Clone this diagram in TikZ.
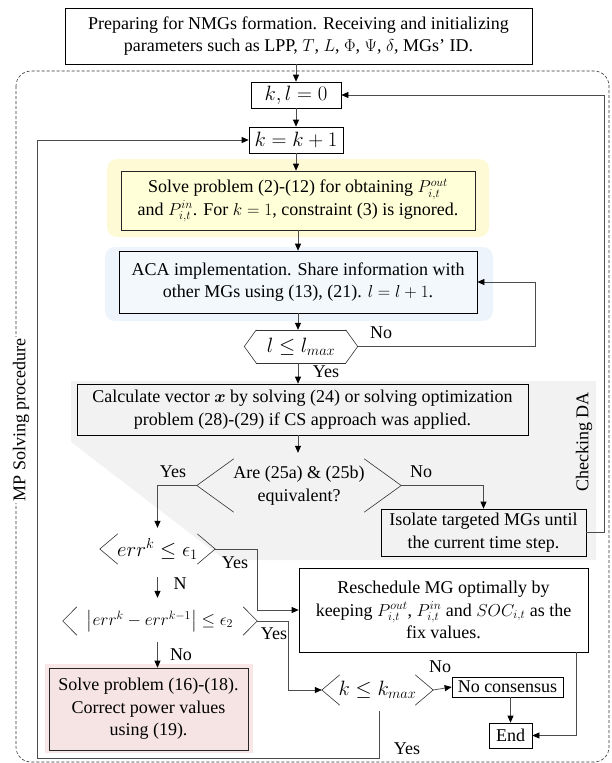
\documentclass[tikz,border=0pt]{standalone}
\usepackage{fontspec}
\setmainfont{Liberation Serif}
\usepackage{amsmath}
\usetikzlibrary{arrows.meta,calc}
\definecolor{yout}{HTML}{FFFAD6}
\definecolor{yin}{HTML}{FFFFD8}
\definecolor{bout}{HTML}{EEF4FB}
\definecolor{bin}{HTML}{F3F8FD}
\definecolor{gbg}{HTML}{F2F2F2}
\definecolor{pout}{HTML}{F9E6E6}
\definecolor{pin}{HTML}{F6E4E4}
\newcommand\DrawChev[2]{%
  \draw[chev] ($(#1.north west)+(#2,0)$) -- (#1.west) -- ($(#1.south west)+(#2,0)$);
  \draw[chev] ($(#1.north east)+(-#2,0)$) -- (#1.east) -- ($(#1.south east)+(-#2,0)$);}
\begin{document}
\begin{tikzpicture}[x=1pt,y=-1pt,
  font=\fontsize{18}{22.5}\selectfont,
  box/.style={draw, line width=0.7pt, align=center, inner sep=1pt},
  hexa/.style={draw=none, align=center, inner sep=0pt},
  mathbig/.style={font=\fontsize{20.5}{24}\selectfont},
  chev/.style={line width=0.6pt, black!80},
  conn/.style={line width=0.7pt, black!70},
  arr/.style={conn, -{Triangle[length=7pt,width=6pt,color=black]}},
  lbl/.style={inner sep=0pt}]
\useasboundingbox (0,0) rectangle (611,763);
% backgrounds
\fill[gbg] (71,381) -- (596,381) -- (596,560) -- (225,560) -- (71,442) -- cycle;
\fill[yout, rounded corners=10pt] (107,159) rectangle (489,237);
\fill[bout, rounded corners=10pt] (105,247) rectangle (493,321);
\fill[pout] (45,664) rectangle (253,753);
% frame
\draw[dashed, dash pattern=on 3pt off 2pt, line width=0.6pt, black!80, rounded corners=15pt] (16,71) rectangle (609,762);
\node[lbl, fill=white, rotate=90, inner sep=2pt] (mp) at (21,420) {MP Solving procedure};
\node[lbl, rotate=90] (cda) at (584,442) {Checking DA};
% nodes
\node[box, minimum width=467pt, minimum height=56pt] (top) at (298.5,36)
  {Preparing for NMGs formation. Receiving and initializing\\parameters such as LPP, $T$,\ $L$,\ $\Phi$,\ $\Psi$, $\delta$, MGs’ ID.};
\node[box, mathbig, fill=white, minimum width=90pt, minimum height=26pt] (k0) at (296,95) {$k,l=0$};
\node[box, mathbig, fill=white, minimum width=94pt, minimum height=26pt] (k1) at (296,140) {$k=k+1$};
\node[box, fill=yin, draw=black!85, minimum width=354pt, minimum height=59pt] (s1) at (298,200.5)
  {Solve problem (2)-(12) for obtaining $P_{i,t}^{out}$\\and $P_{i,t}^{in}$. For $k=1$, constraint (3) is ignored.};
\node[box, fill=bin, minimum width=358pt, minimum height=62pt] (aca) at (298,282)
  {ACA implementation. Share information with\\other MGs using (13), (21). $l=l+1$.};
\node[hexa, mathbig, minimum width=113pt, minimum height=33pt] (lmax) at (301,346.5) {$l\le l_{max}$};
\draw[chev] ($(lmax.north west)+(12,0)$) -- ($(lmax.north east)+(-12,0)$);
\draw[chev] ($(lmax.south west)+(12,0)$) -- ($(lmax.south east)+(-12,0)$);
\DrawChev{lmax}{12}
\node[box, fill=gbg, minimum width=451pt, minimum height=51pt] (calc) at (302.5,409.5)
  {Calculate vector $\boldsymbol{x}$ by solving (24) or solving optimization\\problem (28)-(29) if CS approach was applied.};
\node[hexa, minimum width=204pt, minimum height=53pt] (diam) at (299,485.5) {Are (25a) \& (25b)\\equivalent?};
\DrawChev{diam}{37}
\node[box, fill=gbg, minimum width=205pt, minimum height=47pt] (iso) at (483.5,532.5)
  {Isolate targeted MGs until\\the current time step.};
\node[hexa, mathbig, minimum width=115pt, minimum height=30pt] (e1) at (157.5,549) {$err^k\le\epsilon_1$};
\DrawChev{e1}{18}
\node[box, fill=white, minimum width=289pt, minimum height=84pt] (res) at (443.5,610) 
  {Reschedule MG optimally by\\keeping $P_{i,t}^{out}$,\ $P_{i,t}^{in}$ and $SOC_{i,t}$ as the\\fix values.};
\node[hexa, font=\fontsize{18.5}{24}\selectfont, minimum width=194pt, minimum height=28pt] (e2) at (160,621) {$\bigl|err^k-err^{k-1}\bigr|\le\epsilon_2$};
\DrawChev{e2}{14}
\node[box, fill=pin, draw=black!85, minimum width=199pt, minimum height=82pt] (s2) at (148.5,709)
  {Solve problem (16)-(18).\\Correct power values\\using (19).};
\node[hexa, mathbig, minimum width=111pt, minimum height=30pt] (kmax) at (377.5,690) {$k\le k_{max}$};
\DrawChev{kmax}{18}
\node[box, fill=white, minimum width=111pt, minimum height=20pt] (nc) at (507.5,687) {No consensus};
\node[box, fill=white, minimum width=43pt, minimum height=25pt] (end) at (510.5,735.5) {End};
% helper coordinates
\coordinate (lr) at (535,346.5);
\coordinate (dr) at (604,532.5);
\coordinate (e1r) at (257,549);
\coordinate (e2r) at (288,621);
\coordinate (rb) at (576,652);
\coordinate (yb) at (379,758);
\coordinate (yl) at (37,758);
% connectors
\draw[arr] (k0|-top.south) -- (k0.north);
\draw[arr] (k0.south) -- (k1.north);
\draw[arr] (k1.south) -- (k1.south|-s1.north);
\draw[arr] (s1.south) -- (aca.north);
\draw[arr] (aca.south) -- (aca.south|-lmax.north);
\draw[arr] (aca.south|-lmax.south) -- (aca.south|-calc.north);
\draw[arr] (lmax.east) -- (lr) |- (aca.east);
\draw[arr, shorten >=6pt] (calc.south-|aca.south) -- (aca.south|-diam.north);
\draw[arr, shorten >=6pt] (diam.west) -| (e1.north);
\draw[arr] (diam.east) -| (iso.north);
\draw[arr] (iso.east) -- (dr) |- (k0.east);
\draw[arr] (e1.east) -- (e1r) |- (res.west);
\draw[arr, shorten <=13pt, shorten >=9pt] (e1.south) -- (e1.south|-e2.north);
\draw[arr] (e2.east) -- (e2r) |- (kmax.west);
\draw[arr, shorten <=7pt] (e2.south-|e1.south) -- (e1.south|-s2.north);
\draw[arr] (kmax.east) -- (nc.west);
\draw[arr] (end.north|-nc.south) -- (end.north);
\draw[arr] (rb) |- (end.east);
\draw[arr, shorten <=6pt] (kmax.south-|yb) -- (yb) -- (yl) |- (k1.west);
% labels
\node[lbl] (l1) at (381,333) {No};
\node[lbl] (l2) at (326,372) {Yes};
\node[lbl] (l3) at (173,472) {Yes};
\node[lbl] (l4) at (421,472) {No};
\node[lbl] (l5) at (235,563) {Yes};
\node[lbl] (l6) at (180,584) {N};
\node[lbl] (l7) at (274,634) {Yes};
\node[lbl] (l8) at (181,655) {No};
\node[lbl] (l9) at (440,667) {No};
\node[lbl] (l10) at (407,749) {Yes};
\end{tikzpicture}
\end{document}
